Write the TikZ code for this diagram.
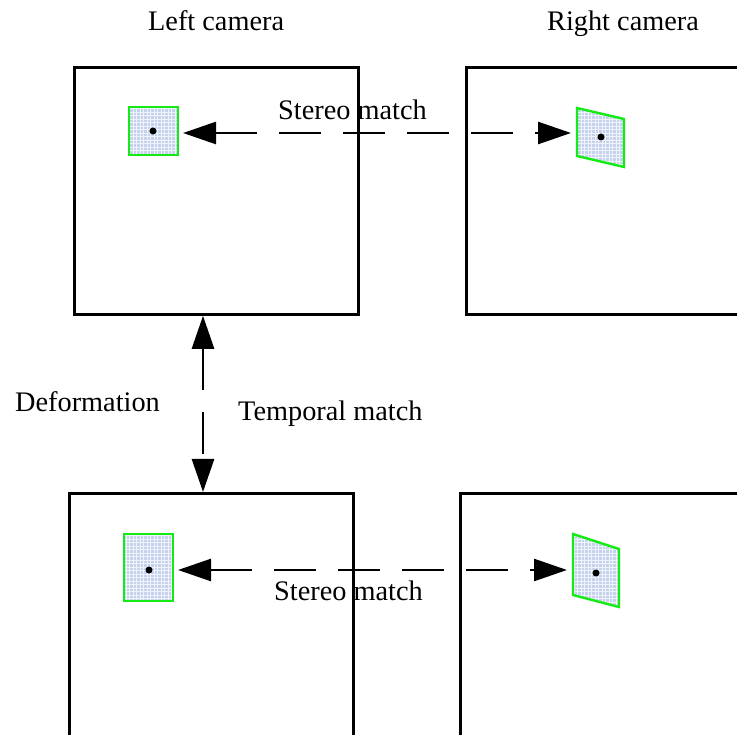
\documentclass[tikz,border=0pt]{standalone}
\usepackage{fontspec}
\setmainfont{Liberation Serif}
\usetikzlibrary{arrows.meta}
\definecolor{patchfill}{RGB}{196,210,238}
\definecolor{patchedge}{RGB}{20,235,20}
\tikzset{
  frame/.style={draw=black, line width=2.8pt, rectangle, anchor=north west,
    minimum width=284pt, minimum height=247pt, inner sep=0pt},
  patchline/.style={draw=patchedge, line width=2.4pt},
  label/.style={anchor=base west, inner sep=0pt, font=\fontsize{28.3}{30}\selectfont},
  match/.style={line width=2.6pt, dash pattern=on 42pt off 22pt,
    {Triangle[length=33pt,width=22pt]}-{Triangle[length=33pt,width=22pt]}},
  dot/.style={circle, fill=black, minimum size=7pt, inner sep=0pt},
}
% light blue patch with a fine white grid
\newcommand{\meshpatch}[1]{%
  \begin{scope}
    \clip #1;
    \fill[patchfill] #1;
    \draw[white, line width=0.7pt, opacity=0.75] (0,0) grid[step=3.5pt] (737,735);
  \end{scope}
  \draw[patchline] #1;
}
\begin{document}
\begin{tikzpicture}[x=1pt, y=-1pt]
  \useasboundingbox (0,0) rectangle (737,735);
  \clip (0,0) rectangle (737,735);
  \fill[white] (0,0) rectangle (737,735);

  % camera frames
  \node[frame] (tl) at (73,66) {};
  \node[frame] (tr) at (465,66) {};
  \node[frame] (bl) at (68,492) {};
  \node[frame] (br) at (459,492) {};

  % subsets in the left images
  \meshpatch{(129,107) rectangle (178,155)}
  \coordinate (ptl) at (178,133);
  \meshpatch{(124,534) rectangle (173,601)}
  \coordinate (pbl) at (173,570);

  % deformed subsets in the right images
  \meshpatch{(577,108) -- (624,119) -- (624,167) -- (577,156) -- cycle}
  \coordinate (ptr) at (577,133);
  \meshpatch{(573,534) -- (619,549) -- (619,607) -- (573,595) -- cycle}
  \coordinate (pbr) at (573,570);

  % subset centres
  \node[dot] (ctl) at (153,131) {};
  \node[dot] (ctr) at (601,137) {};
  \node[dot] (cbl) at (149,570) {};
  \node[dot] (cbr) at (596,573) {};

  % correspondences
  \draw[match, shorten <=5pt, shorten >=6pt] (ptl) -- (ptr);
  \draw[match, shorten <=5pt, shorten >=6pt] (pbl) -- (pbr);
  \draw[match] ([xshift=130pt]tl.south west) -- ([xshift=130pt]tl.south west |- bl.north);

  % labels
  \node[label] (lcam) at (148,31) {Left camera};
  \node[label] (rcam) at (547,31) {Right camera};
  \node[label] (sm1) at (278,120) {Stereo match};
  \node[label] (sm2) at (274,600) {Stereo match};
  \node[label] (tm) at (238,421) {Temporal match};
  \node[label] (def) at (15,412) {Deformation};
\end{tikzpicture}
\end{document}
